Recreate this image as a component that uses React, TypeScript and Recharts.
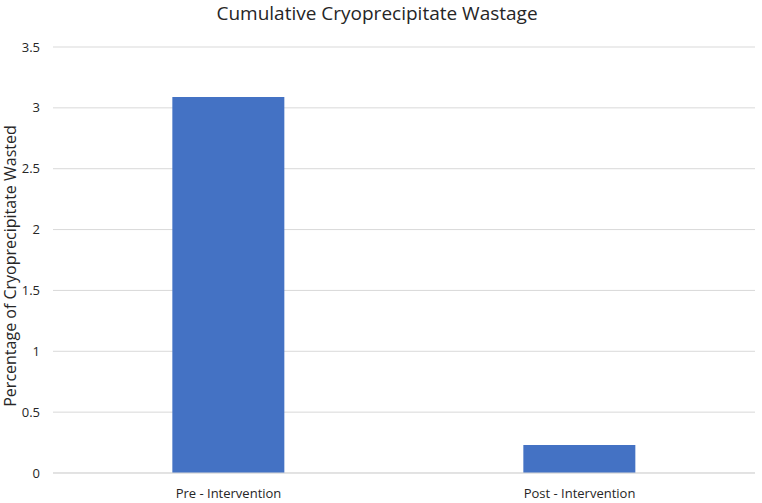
import { Bar, BarChart, CartesianGrid, XAxis, YAxis } from "recharts"

const categories = ["Pre - Intervention", "Post - Intervention"]
const wastage = [3.09, 0.23]
const yTicks = [0, 0.5, 1, 1.5, 2, 2.5, 3, 3.5]

const data = categories.map((name, i) => ({ name, wastage: wastage[i] }))

const font = "'Open Sans', sans-serif"

export default function App() {
  return (
    <div style={{ position: "absolute", left: 0, top: 0, width: 762, height: 503, background: "#fff", fontFamily: font }}>
      <div
        style={{
          position: "absolute",
          top: 0,
          left: 0,
          width: 754,
          textAlign: "center",
          fontSize: 19,
          color: "#262626",
        }}
      >
        Cumulative Cryoprecipitate Wastage
      </div>
      <BarChart
        width={762}
        height={503}
        data={data}
        margin={{ top: 47, right: 7, bottom: 0, left: 0 }}
        barCategoryGap="34%"
      >
        <CartesianGrid vertical={false} stroke="#d9d9d9" />
        <XAxis
          dataKey="name"
          tickLine={false}
          axisLine={{ stroke: "#d9d9d9" }}
          tick={{ fill: "#262626", fontSize: 13, fontFamily: font }}
          height={30}
          tickMargin={10}
        />
        <YAxis
          domain={[0, 3.5]}
          ticks={yTicks}
          tickLine={false}
          axisLine={false}
          width={53}
          tick={{ fill: "#262626", fontSize: 13, fontFamily: font }}
          tickMargin={7}
          label={{
            value: "Percentage of Cryoprecipitate Wasted",
            angle: -90,
            position: "insideLeft",
            offset: 0,
            dx: 10,
            dy: 6,
            style: { textAnchor: "middle", fill: "#262626", fontSize: 16, fontFamily: font },
          }}
        />
        <Bar dataKey="wastage" fill="#4472c4" isAnimationActive={false} />
      </BarChart>
    </div>
  )
}
